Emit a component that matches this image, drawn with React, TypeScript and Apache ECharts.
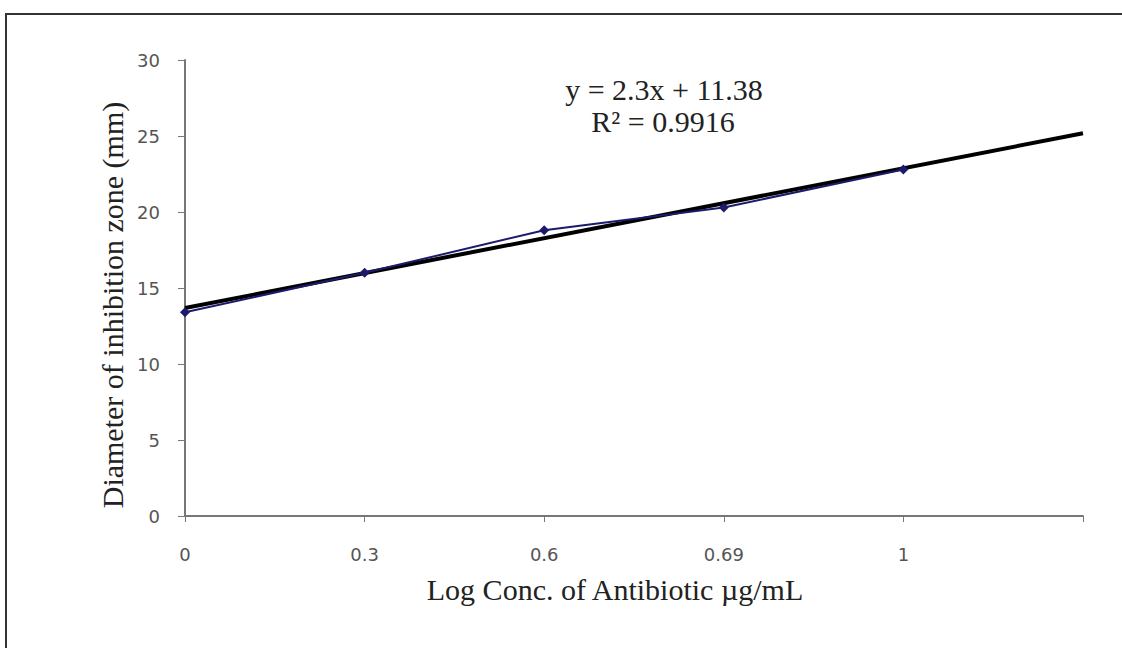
import React, { useEffect, useRef } from "react";
import * as echarts from "echarts";

const categories = ["0", "0.3", "0.6", "0.69", "1", ""];
const zoneDiameter = [13.4, 16.0, 18.8, 20.3, 22.8];
const trendSlope = 2.3;
const trendIntercept = 11.38;
const equationLines = ["y = 2.3x + 11.38", "R\u00b2 = 0.9916"];
const xTitle = "Log Conc. of Antibiotic \u00b5g/mL";
const yTitle = "Diameter of inhibition zone (mm)";

export default function App() {
  const ref = useRef<HTMLDivElement>(null);
  useEffect(() => {
    document.body.style.margin = "0";
    const chart = echarts.init(ref.current!, null, { renderer: "svg" });
    const lastIdx = categories.length - 1;
    const trend = [
      [0, trendSlope * 1 + trendIntercept],
      [lastIdx, trendSlope * (lastIdx + 1) + trendIntercept],
    ];
    const serif = "'Liberation Serif', 'Times New Roman', serif";
    const sans = "'DejaVu Sans', sans-serif";
    chart.setOption({
      animation: false,
      backgroundColor: "#ffffff",
      grid: { left: 185, right: 39, top: 60, bottom: 132, containLabel: false },
      xAxis: {
        type: "category",
        data: categories,
        boundaryGap: false,
        axisLine: { lineStyle: { color: "#777", width: 2 } },
        axisTick: { show: true, length: 6, lineStyle: { color: "#777" }, alignWithLabel: true },
        axisLabel: { fontFamily: sans, fontSize: 18, color: "#555", margin: 29 },
        splitLine: { show: false },
      },
      yAxis: {
        type: "value",
        min: 0,
        max: 30,
        interval: 5,
        axisLine: { show: true, lineStyle: { color: "#777", width: 2 } },
        axisTick: { show: true, length: 7, lineStyle: { color: "#777" } },
        axisLabel: { fontFamily: sans, fontSize: 18, color: "#555", margin: 25 },
        splitLine: { show: false },
      },
      series: [
        {
          type: "line",
          data: trend,
          symbol: "none",
          lineStyle: { color: "#000", width: 4 },
          z: 2,
        },
        {
          type: "line",
          data: zoneDiameter,
          symbol: "diamond",
          symbolSize: 10,
          lineStyle: { color: "#1c1a6b", width: 2 },
          itemStyle: { color: "#1c1a6b" },
          z: 3,
        },
      ],
      graphic: [
        {
          type: "rect",
          shape: { x: 6, y: 14, width: 1140, height: 660 },
          style: { fill: "none", stroke: "#333", lineWidth: 2 },
          silent: true,
        },
        {
          type: "text",
          x: 664,
          y: 89,
          style: { text: equationLines[0], fontFamily: serif, fontSize: 30, fill: "#222", align: "center", verticalAlign: "middle" },
        },
        {
          type: "text",
          x: 663,
          y: 121,
          style: { text: equationLines[1], fontFamily: serif, fontSize: 30, fill: "#222", align: "center", verticalAlign: "middle" },
        },
        {
          type: "text",
          x: 615,
          y: 589,
          style: { text: xTitle, fontFamily: serif, fontSize: 30, fill: "#222", align: "center", verticalAlign: "middle" },
        },
        {
          type: "text",
          x: 112,
          y: 305,
          rotation: Math.PI / 2,
          style: { text: yTitle, fontFamily: serif, fontSize: 30, fill: "#222", align: "center", verticalAlign: "middle" },
        },
      ],
    });
    return () => chart.dispose();
  }, []);
  return <div ref={ref} style={{ width: 1122, height: 648 }} />;
}
